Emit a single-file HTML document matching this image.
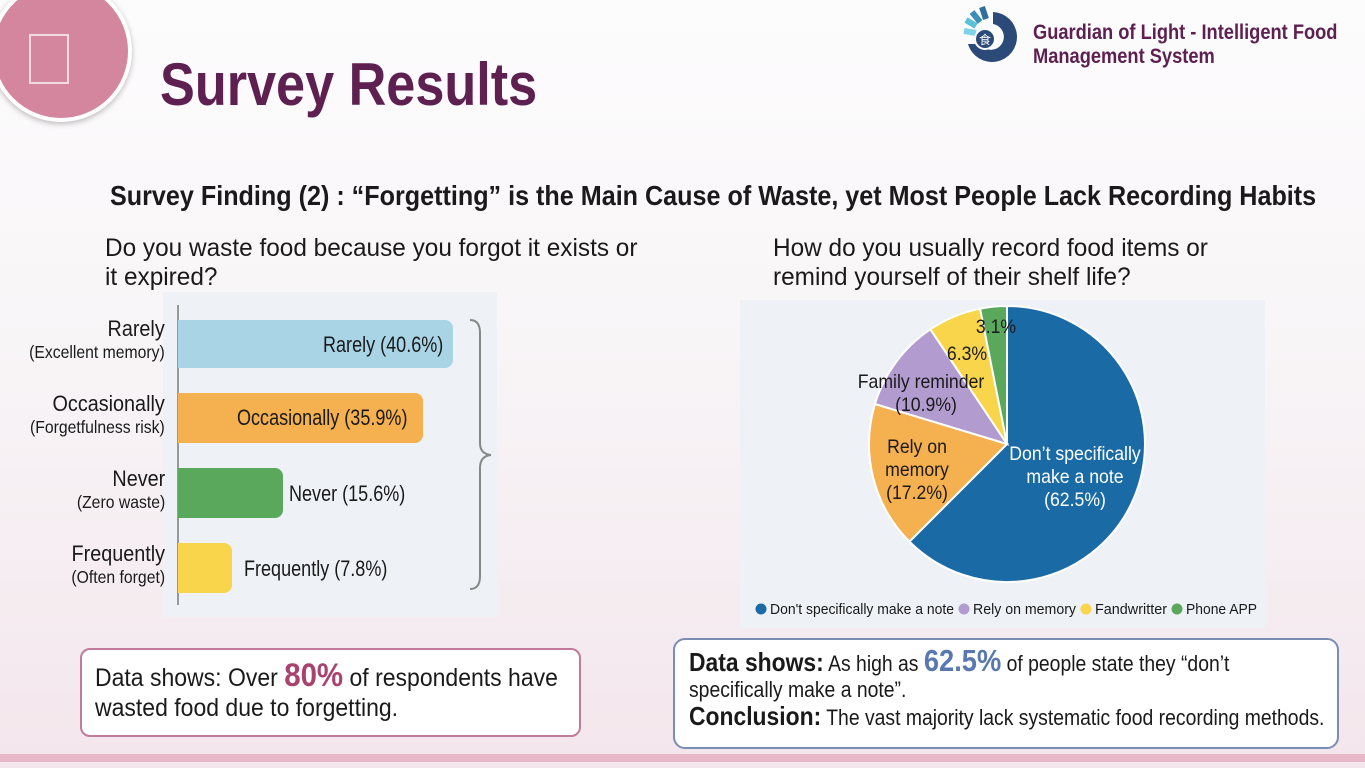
<!DOCTYPE html>
<html><head><meta charset="utf-8"><style>
*{margin:0;padding:0;box-sizing:border-box}
body{width:1365px;height:768px;overflow:hidden;position:relative;font-family:"Liberation Sans",sans-serif;background:linear-gradient(180deg,#fdfcfd 0%,#f8f5f7 45%,#f3e6ec 100%);color:#1a1a1a}
.abs{position:absolute;white-space:nowrap}
.n{display:inline-block;transform:scaleX(.82);transform-origin:0 0;white-space:nowrap}
.r{transform-origin:100% 0}
</style></head><body>
<div class="abs" style="left:-10px;top:-20px;width:142px;height:142px;border-radius:50%;background:#d4869f;border:4px solid #fff;box-shadow:0 2px 6px rgba(0,0,0,.25)"></div>
<div class="abs" style="left:29px;top:34px;width:40px;height:50px;border:2px solid #f3dbe3"></div>
<div class="abs" style="left:160px;top:50px;font-size:60px;font-weight:bold;color:#5e2050"><span class="n" style="transform:scaleX(.87)">Survey Results</span></div>
<svg class="abs" style="left:960px;top:4px" width="66" height="66" viewBox="0 0 66 66">
<path d="M33 8 A25 25 0 1 1 8 40 L20 40 A13 13 0 1 0 33 20 Z" fill="#2b4a78"/>
<g stroke-width="6"><line x1="6" y1="16" x2="16" y2="22" stroke="#5bc0d8"/><line x1="12" y1="8" x2="20" y2="18" stroke="#3a8fb8"/><line x1="22" y1="3" x2="26" y2="15" stroke="#2f6fa0"/><line x1="4" y1="27" x2="16" y2="29" stroke="#7fd3e6"/></g>
<circle cx="25" cy="35" r="10" fill="#2b4a78" stroke="#fff" stroke-width="2"/><text x="25" y="40" font-size="12" fill="#fff" text-anchor="middle" font-family="Noto Sans CJK SC">食</text>
</svg>
<div class="abs" style="left:1033px;top:21px;font-size:21px;font-weight:bold;color:#5e2050;line-height:24px"><span class="n" style="transform:scaleX(.87)">Guardian of Light - Intelligent Food<br>Management System</span></div>
<div class="abs" style="left:110px;top:180px;font-size:28px;font-weight:bold"><span class="n" style="transform:scaleX(.898)">Survey Finding (2) : “Forgetting” is the Main Cause of Waste, yet Most People Lack Recording Habits</span></div>
<div class="abs" style="left:105px;top:234px;font-size:25px;line-height:29px"><span class="n" style="transform:scaleX(.975)">Do you waste food because you forgot it exists or<br>it expired?</span></div>
<div class="abs" style="left:773px;top:234px;font-size:25px;line-height:29px"><span class="n" style="transform:scaleX(.975)">How do you usually record food items or<br>remind yourself of their shelf life?</span></div>
<div class="abs" style="left:163px;top:292px;width:334px;height:325px;background:#eef2f6"></div>
<div class="abs" style="left:177px;top:305px;width:2px;height:300px;background:#999"></div>
<div class="abs" style="left:178px;top:320px;width:275px;height:48px;background:#a8d4e6;border-radius:0 8px 8px 0"></div>
<div class="abs" style="left:178px;top:393px;width:245px;height:50px;background:#f5b04f;border-radius:0 8px 8px 0"></div>
<div class="abs" style="left:178px;top:468px;width:105px;height:50px;background:#5aa85c;border-radius:0 8px 8px 0"></div>
<div class="abs" style="left:178px;top:543px;width:54px;height:50px;background:#f8d54a;border-radius:0 8px 8px 0"></div>
<div class="abs" style="left:323px;top:332px;font-size:22px"><span class="n">Rarely (40.6%)</span></div>
<div class="abs" style="left:237px;top:405px;font-size:22px"><span class="n">Occasionally (35.9%)</span></div>
<div class="abs" style="left:289px;top:481px;font-size:22px"><span class="n">Never (15.6%)</span></div>
<div class="abs" style="left:244px;top:556px;font-size:22px"><span class="n">Frequently (7.8%)</span></div>
<div class="abs" style="right:1200px;top:318px;text-align:right;font-size:22px;line-height:22px"><span class="n r" style="transform:scaleX(.9)">Rarely<br><span style="font-size:17.5px">(Excellent memory)</span></span></div>
<div class="abs" style="right:1200px;top:393px;text-align:right;font-size:22px;line-height:22px"><span class="n r" style="transform:scaleX(.9)">Occasionally<br><span style="font-size:17.5px">(Forgetfulness risk)</span></span></div>
<div class="abs" style="right:1200px;top:468px;text-align:right;font-size:22px;line-height:22px"><span class="n r" style="transform:scaleX(.9)">Never<br><span style="font-size:17.5px">(Zero waste)</span></span></div>
<div class="abs" style="right:1200px;top:543px;text-align:right;font-size:22px;line-height:22px"><span class="n r" style="transform:scaleX(.9)">Frequently<br><span style="font-size:17.5px">(Often forget)</span></span></div>
<svg class="abs" style="left:465px;top:318px" width="30" height="275"><path d="M5 2 Q15 2 15 15 L15 125 Q15 136 26 137 Q15 138 15 150 L15 258 Q15 271 5 271" fill="none" stroke="#888" stroke-width="2"/></svg>
<div class="abs" style="left:740px;top:300px;width:525px;height:328px;background:#eef2f6"></div>
<svg class="abs" style="left:0;top:0" width="1365" height="768">
<g stroke="#fff" stroke-width="2">
<path d="M1007 444 L1007 306 A138 138 0 1 1 909.4 541.6 Z" fill="#1a6aa6"/>
<path d="M1007 444 L909.4 541.6 A138 138 0 0 1 875 404 Z" fill="#f5b04f"/>
<path d="M1007 444 L875 404 A138 138 0 0 1 930.4 329.3 Z" fill="#b29bcf"/>
<path d="M1007 444 L930.4 329.3 A138 138 0 0 1 980.1 308.7 Z" fill="#f8d54a"/>
<path d="M1007 444 L980.1 308.7 A138 138 0 0 1 1007 306 Z" fill="#5aa85c"/>
</g>
<g font-family="Liberation Sans, sans-serif" font-size="19" text-anchor="middle" fill="#1a1a1a">
<g transform="translate(996,333) scale(.93,1)"><text>3.1%</text></g>
<g transform="translate(967,360) scale(.93,1)"><text>6.3%</text></g>
<g transform="translate(921,388) scale(.93,1)"><text>Family reminder</text></g>
<g transform="translate(926,411) scale(.93,1)"><text>(10.9%)</text></g>
<g transform="translate(917,453) scale(.93,1)"><text>Rely on</text></g>
<g transform="translate(917,476) scale(.93,1)"><text>memory</text></g>
<g transform="translate(917,499) scale(.93,1)"><text>(17.2%)</text></g>
<g fill="#fff">
<g transform="translate(1075,460) scale(.93,1)"><text>Don’t specifically</text></g>
<g transform="translate(1075,483) scale(.93,1)"><text>make a note</text></g>
<g transform="translate(1075,506) scale(.93,1)"><text>(62.5%)</text></g>
</g></g>
<g font-family="Liberation Sans, sans-serif" font-size="15" fill="#1a1a1a">
<circle cx="761" cy="609" r="5.5" fill="#1a6aa6"/><text x="770" y="614" textLength="184" lengthAdjust="spacingAndGlyphs">Don't specifically make a note</text>
<circle cx="964" cy="609" r="5.5" fill="#b29bcf"/><text x="973" y="614" textLength="103" lengthAdjust="spacingAndGlyphs">Rely on memory</text>
<circle cx="1086" cy="609" r="5.5" fill="#f8d54a"/><text x="1095" y="614" textLength="72" lengthAdjust="spacingAndGlyphs">Fandwritter</text>
<circle cx="1177" cy="609" r="5.5" fill="#5aa85c"/><text x="1186" y="614" textLength="71" lengthAdjust="spacingAndGlyphs">Phone APP</text>
</g>
</svg>
<div class="abs" style="left:80px;top:648px;width:501px;height:89px;border:2px solid #c07a9a;border-radius:10px;background:#fff;padding:10px 0 0 13px;font-size:25px;line-height:30px"><span class="n" style="transform:scaleX(.92)">Data shows: Over <b style="color:#a8426e;font-size:32px">80%</b> of respondents have<br>wasted food due to forgetting.</span></div>
<div class="abs" style="left:673px;top:638px;width:666px;height:111px;border:2px solid #7a8db5;border-radius:12px;background:#fff;padding:8px 0 0 14px;font-size:22px;line-height:26px"><span class="n" style="transform:scaleX(.88)"><b style="font-size:26px">Data shows:</b> As high as <b style="color:#5a78b0;font-size:31px">62.5%</b> of people state they “don’t<br>specifically make a note”.<br><b style="font-size:26px">Conclusion:</b> The vast majority lack systematic food recording methods.</span></div>
<div class="abs" style="left:0;top:754px;width:1365px;height:8px;background:#e8b8c8"></div>
</body></html>
